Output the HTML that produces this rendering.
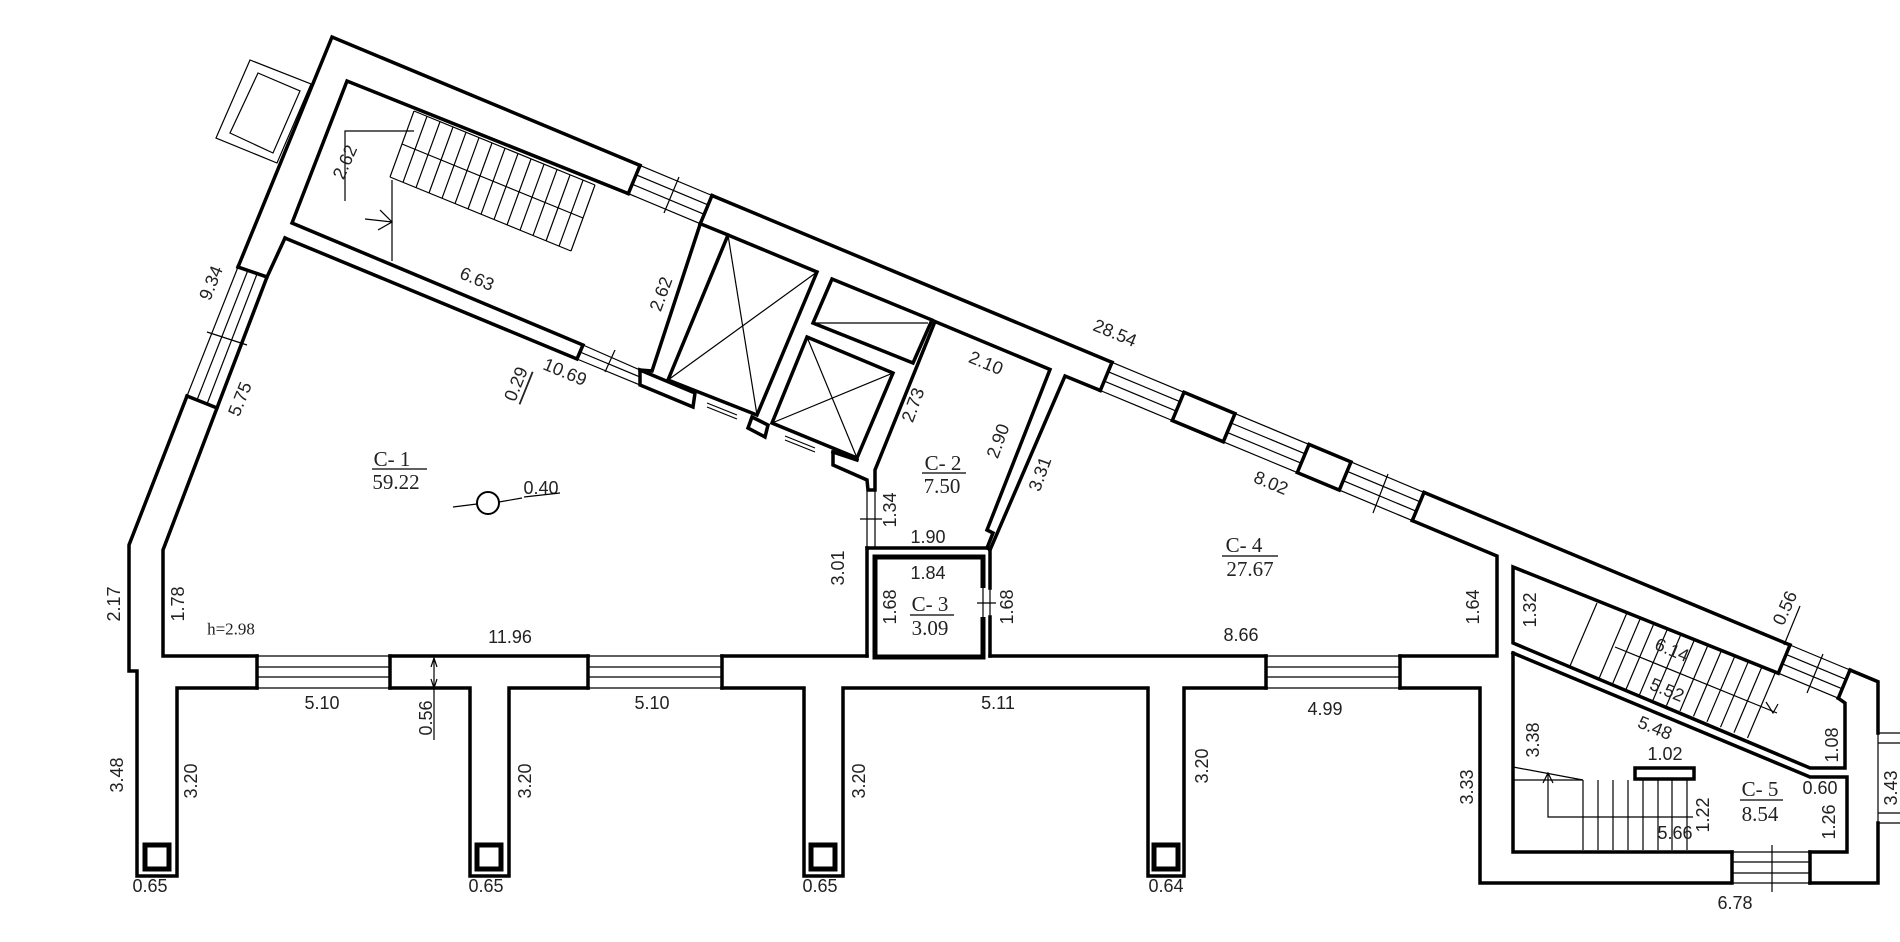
<!DOCTYPE html>
<html><head><meta charset="utf-8"><style>
html,body{margin:0;padding:0;background:#fff;}
svg{display:block;}
text{font-family:"Liberation Sans",sans-serif;font-size:18px;fill:#222;text-anchor:middle;dominant-baseline:central;}
.s{font-family:"Liberation Serif",serif;font-size:21px;}
.t{fill:none;stroke:#000;stroke-width:3.5;stroke-linejoin:miter;stroke-linecap:square;}
.n{fill:none;stroke:#000;stroke-width:1.2;}
.b{fill:none;stroke:#000;stroke-width:5;}
</style></head><body>
<svg width="1900" height="942" viewBox="0 0 1900 942" xmlns="http://www.w3.org/2000/svg">
<rect width="1900" height="942" fill="#fff"/>
<polygon class="n" points="250,60 311,84 277,163 216,138"/>
<polygon class="n" points="258,73 300,91 273,153 230,133"/>
<polyline class="t" points="640,165.4 332,37 238,267"/>
<line class="t" x1="712" y1="195.5" x2="1112" y2="362.3"/>
<line class="t" x1="1424" y1="492.4" x2="1790" y2="645"/>
<polyline class="t" points="1850,670 1878,681.7 1878,733"/>
<polyline class="t" points="1878,823 1878,883 1810,883"/>
<g class="n">
<line x1="640" y1="165.4" x2="712" y2="195.5"/><line x1="628.3" y1="193.6" x2="700.3" y2="223.7"/>
<line x1="636.1" y1="174.8" x2="708.1" y2="204.9"/><line x1="632.2" y1="184.2" x2="704.2" y2="214.3"/>
<line x1="679" y1="177" x2="664" y2="213"/>
<line x1="1112" y1="362.3" x2="1184" y2="392.3"/><line x1="1100.3" y1="390.5" x2="1172.3" y2="420.5"/>
<line x1="1108.1" y1="371.7" x2="1180.1" y2="401.7"/><line x1="1104.2" y1="381.1" x2="1176.2" y2="411.1"/>
<line x1="1235" y1="413.6" x2="1309" y2="444.4"/><line x1="1223.3" y1="441.8" x2="1297.3" y2="472.6"/>
<line x1="1231.1" y1="423" x2="1305.1" y2="453.8"/><line x1="1227.2" y1="432.4" x2="1301.2" y2="463.2"/>
<line x1="1351" y1="461.9" x2="1424" y2="492.4"/><line x1="1339.3" y1="490.1" x2="1412.3" y2="520.6"/>
<line x1="1347.1" y1="471.3" x2="1420.1" y2="501.8"/><line x1="1343.2" y1="480.7" x2="1416.2" y2="511.2"/>
<line x1="1388" y1="474" x2="1373" y2="513"/>
<line x1="1790" y1="645" x2="1850" y2="670"/><line x1="1778.3" y1="673.2" x2="1838.3" y2="698.2"/>
<line x1="1786.1" y1="654.4" x2="1846.1" y2="679.4"/><line x1="1782.2" y1="663.8" x2="1842.2" y2="688.8"/>
<line x1="1823" y1="654" x2="1807" y2="693"/>
</g>
<g class="t">
<line x1="640" y1="165.4" x2="628.3" y2="193.6"/><line x1="712" y1="195.5" x2="700.3" y2="223.7"/>
<line x1="1112" y1="362.3" x2="1100.3" y2="390.5"/>
<polygon points="1184,392.3 1235,413.6 1223.3,441.8 1172.3,420.5"/>
<polygon points="1309,444.4 1351,461.9 1339.3,490.1 1297.3,472.6"/>
<line x1="1424" y1="492.4" x2="1412.3" y2="520.6"/>
<line x1="1790" y1="645" x2="1778.3" y2="673.2"/><line x1="1850" y1="670" x2="1838.3" y2="698.2"/>
</g>
<g class="n">
<line x1="238" y1="267" x2="187" y2="396"/><line x1="267" y1="277" x2="217" y2="408"/>
<line x1="248" y1="270" x2="197" y2="400"/><line x1="257" y1="274" x2="207" y2="404"/>
<line x1="207" y1="332" x2="247" y2="345"/>
</g>
<line class="t" x1="238" y1="267" x2="267" y2="277"/><line class="t" x1="187" y1="396" x2="217" y2="408"/>
<polyline class="t" points="187,396 129,545 129,671 137,671 137,876 177,876 177,688 257,688"/>
<polyline class="t" points="285,238 267,277 217,408 163,550 163,656 257,656"/>
<polyline class="t" points="628.3,193.6 347,81 292,223 583,345 577,359 285,238"/>
<polyline class="t" points="700.3,223.7 728,235"/>
<polyline class="t" points="700.3,223.7 652,371 640,370"/>
<g class="n">
<line x1="583" y1="345" x2="640" y2="370"/><line x1="577" y1="359" x2="640" y2="385"/>
<line x1="580" y1="352" x2="640" y2="377"/><line x1="615" y1="350" x2="605" y2="372"/>
</g>
<g class="n">
<line x1="414" y1="111" x2="595" y2="185"/><line x1="390" y1="177" x2="571" y2="251"/>
<line x1="402" y1="144" x2="583" y2="218"/>
<line x1="414" y1="111" x2="390" y2="177"/><line x1="427" y1="116.3" x2="403" y2="182.3"/><line x1="440" y1="121.7" x2="416" y2="187.7"/><line x1="453" y1="127" x2="429" y2="193"/><line x1="466" y1="132.3" x2="442" y2="198.3"/><line x1="479" y1="137.7" x2="455" y2="203.7"/><line x1="492" y1="143" x2="468" y2="209"/><line x1="505" y1="148.3" x2="481" y2="214.3"/><line x1="518" y1="153.6" x2="494" y2="219.6"/><line x1="531" y1="159" x2="507" y2="225"/><line x1="544" y1="164.3" x2="520" y2="230.3"/><line x1="557" y1="169.6" x2="533" y2="235.6"/><line x1="570" y1="175" x2="546" y2="241"/><line x1="583" y1="180.3" x2="559" y2="246.3"/><line x1="595" y1="185" x2="571" y2="251"/>
<polyline points="414,131 345,131 345,201"/>
<line x1="392" y1="180" x2="392" y2="261"/>
<line x1="365" y1="219" x2="392" y2="222"/><polyline points="380,210 392,222 378,230"/>
</g>
<polygon class="t" points="728,235 817,272 757,415 668,380"/>
<line class="n" x1="728" y1="235" x2="757" y2="415"/><line class="n" x1="817" y1="272" x2="668" y2="380"/>
<polygon class="t" points="832,279 932,320 913,363 813,323"/>
<line class="n" x1="815" y1="323" x2="928" y2="323"/>
<polygon class="t" points="807,337 893,373 857,458 772,423"/>
<line class="n" x1="807" y1="337" x2="857" y2="458"/><line class="n" x1="893" y1="373" x2="772" y2="423"/>
<polygon class="t" points="640,370 695,393 693,407 640,385"/>
<polygon class="t" points="752,417 768,425 765,437 748,428"/>
<line class="n" x1="707" y1="403" x2="737" y2="415"/><line class="n" x1="707" y1="407" x2="737" y2="419"/>
<line class="n" x1="785" y1="436" x2="815" y2="448"/><line class="n" x1="785" y1="440" x2="815" y2="452"/>
<polyline class="t" points="833,452 833,465 867,480 868,490 875,490 875,470 935,321.5 1050,369.5 987,530 993,533 987,548"/>
<line class="t" x1="833" y1="452" x2="857" y2="460"/>
<g class="n"><line x1="867" y1="490" x2="867" y2="548"/><line x1="875" y1="490" x2="875" y2="548"/><line x1="860" y1="519" x2="882" y2="519"/></g>
<line class="t" x1="867" y1="548" x2="987" y2="548"/>
<line class="t" x1="867" y1="548" x2="867" y2="656"/>
<polyline class="b" points="983,588 983,557 875,557 875,657 983,657 983,617"/>
<g class="n"><line x1="990" y1="588" x2="990" y2="617"/><line x1="983" y1="588" x2="983" y2="617"/><line x1="977" y1="603" x2="996" y2="603"/></g>
<line class="t" x1="990" y1="548" x2="990" y2="588"/><line class="t" x1="990" y1="617" x2="990" y2="656"/>
<polyline class="t" points="1100.3,390.5 1065,376 990,550"/>
<polyline class="t" points="1412.3,520.6 1497,556 1497,656 1400,656"/>
<g class="t">
<line x1="390" y1="656" x2="588" y2="656"/><line x1="722" y1="656" x2="867" y2="656"/><line x1="990" y1="656" x2="1266" y2="656"/>
<polyline points="390,688 470,688 470,876 509,876 509,688 588,688"/>
<polyline points="722,688 804,688 804,876 843,876 843,688 1148,688 1148,876 1184,876 1184,688 1266,688"/>
<polyline points="1400,688 1480,688 1480,883 1730,883"/>
<line x1="257" y1="656" x2="257" y2="688"/><line x1="390" y1="656" x2="390" y2="688"/>
<line x1="588" y1="656" x2="588" y2="688"/><line x1="722" y1="656" x2="722" y2="688"/>
<line x1="1266" y1="656" x2="1266" y2="688"/><line x1="1400" y1="656" x2="1400" y2="688"/>
</g>
<g class="b">
<rect x="145" y="845" width="24" height="24"/><rect x="477" y="845" width="24" height="24"/><rect x="811" y="845" width="24" height="24"/><rect x="1154" y="845" width="24" height="24"/>
</g>
<g class="n">
<line x1="257" y1="656" x2="390" y2="656"/><line x1="257" y1="667" x2="390" y2="667"/><line x1="257" y1="677" x2="390" y2="677"/><line x1="257" y1="688" x2="390" y2="688"/>
<line x1="588" y1="656" x2="722" y2="656"/><line x1="588" y1="667" x2="722" y2="667"/><line x1="588" y1="677" x2="722" y2="677"/><line x1="588" y1="688" x2="722" y2="688"/>
<line x1="1266" y1="656" x2="1400" y2="656"/><line x1="1266" y1="667" x2="1400" y2="667"/><line x1="1266" y1="677" x2="1400" y2="677"/><line x1="1266" y1="688" x2="1400" y2="688"/>
<line x1="434" y1="658" x2="434" y2="740"/><polyline points="431,667 434,658 437,667"/><polyline points="431,679 434,688 437,679"/>
</g>
<polyline class="t" points="1778.3,673.2 1513,567 1513,643 1810,768 1845,768 1845,703 1838.3,698.2"/>
<polyline class="t" points="1513,653 1810,777 1847,777 1847,852 1810,852"/>
<polyline class="t" points="1732,852 1513,852 1513,653"/>
<g class="n">
<line x1="1732" y1="852" x2="1810" y2="852"/><line x1="1732" y1="862" x2="1810" y2="862"/><line x1="1732" y1="873" x2="1810" y2="873"/><line x1="1730" y1="883" x2="1810" y2="883"/>
<line x1="1772" y1="845" x2="1772" y2="892"/>
<line x1="1878" y1="733" x2="1900" y2="733"/><line x1="1878" y1="743" x2="1900" y2="743"/><line x1="1878" y1="813" x2="1900" y2="813"/><line x1="1878" y1="823" x2="1900" y2="823"/>
<line x1="1878" y1="733" x2="1878" y2="823"/>
</g>
<line class="t" x1="1732" y1="852" x2="1732" y2="883"/><line class="t" x1="1810" y1="852" x2="1810" y2="883"/>
<g class="n">
<line x1="1597" y1="603" x2="1570" y2="666"/>
<line x1="1627" y1="612.6" x2="1599" y2="678.6"/><line x1="1640.5" y1="618" x2="1612.5" y2="684"/><line x1="1654" y1="623.4" x2="1626" y2="689.4"/><line x1="1667.5" y1="628.8" x2="1639.5" y2="694.8"/><line x1="1681" y1="634.2" x2="1653" y2="700.2"/><line x1="1694.5" y1="639.6" x2="1666.5" y2="705.6"/><line x1="1708" y1="645" x2="1680" y2="711"/><line x1="1721.5" y1="650.4" x2="1693.5" y2="716.4"/><line x1="1735" y1="655.8" x2="1707" y2="721.8"/><line x1="1748.5" y1="661.2" x2="1720.5" y2="727.2"/><line x1="1762" y1="666.6" x2="1734" y2="732.6"/><line x1="1775.5" y1="672" x2="1747.5" y2="738"/>
<line x1="1615" y1="647" x2="1777" y2="713"/>
<polyline points="1766,702 1773,713 1778,704"/>
<line x1="1513" y1="780" x2="1583" y2="780"/><line x1="1513" y1="767" x2="1583" y2="780"/>
<line x1="1583" y1="780" x2="1583" y2="850"/><line x1="1598" y1="780" x2="1598" y2="850"/><line x1="1613" y1="780" x2="1613" y2="850"/><line x1="1628" y1="780" x2="1628" y2="850"/><line x1="1643" y1="780" x2="1643" y2="850"/><line x1="1658" y1="780" x2="1658" y2="850"/><line x1="1672" y1="780" x2="1672" y2="850"/><line x1="1687" y1="780" x2="1687" y2="850"/>
<polyline points="1548,773 1548,817 1693,817"/><polyline points="1543,783 1548,773 1553,783"/>
<line x1="1800" y1="606" x2="1784" y2="645"/>
</g>
<rect class="t" x="1635" y="768" width="59" height="11"/>
<text transform="translate(345,162) rotate(-66)">2.62</text>
<text transform="translate(477,279) rotate(22.6)">6.63</text>
<text transform="translate(661,294) rotate(-70)">2.62</text>
<text transform="translate(211,283) rotate(-68)">9.34</text>
<text transform="translate(240,399) rotate(-68)">5.75</text>
<text transform="translate(516,384) rotate(-68)" text-decoration="underline">0.29</text>
<text transform="translate(565,372) rotate(22.6)">10.69</text>
<text class="s" x="392" y="459">С- 1</text>
<line class="n" x1="372" y1="469" x2="427" y2="469"/>
<text class="s" x="396" y="482">59.22</text>
<circle cx="488" cy="503" r="11" class="n" style="stroke-width:2"/>
<line class="n" x1="453" y1="507" x2="477" y2="504"/><line class="n" x1="522" y1="498" x2="499" y2="502"/>
<text x="541" y="488">0.40</text><line class="n" x1="524" y1="497" x2="560" y2="493"/>
<text transform="translate(114,604) rotate(-90)">2.17</text>
<text transform="translate(178,604) rotate(-90)">1.78</text>
<text class="s" x="231" y="629" style="font-size:17px">h=2.98</text>
<text x="510" y="637">11.96</text>
<text x="322" y="703">5.10</text><text x="652" y="703">5.10</text>
<text transform="translate(426,718) rotate(-90)">0.56</text>
<text transform="translate(117,775) rotate(-90)">3.48</text>
<text transform="translate(191,781) rotate(-90)">3.20</text>
<text transform="translate(525,781) rotate(-90)">3.20</text>
<text transform="translate(859,781) rotate(-90)">3.20</text>
<text transform="translate(1202,766) rotate(-90)">3.20</text>
<text x="150" y="886">0.65</text><text x="486" y="886">0.65</text><text x="820" y="886">0.65</text><text x="1166" y="886">0.64</text>
<text transform="translate(838,568) rotate(-90)">3.01</text>
<text transform="translate(913,405) rotate(-70)">2.73</text>
<text transform="translate(1115,333) rotate(22.6)">28.54</text>
<text transform="translate(986,363) rotate(22.6)">2.10</text>
<text transform="translate(998,441) rotate(-70)">2.90</text>
<text transform="translate(1040,474) rotate(-70)">3.31</text>
<text transform="translate(1271,483) rotate(22.6)">8.02</text>
<text class="s" x="943" y="463">С- 2</text>
<line class="n" x1="922" y1="473" x2="966" y2="473"/>
<text class="s" x="942" y="486">7.50</text>
<text transform="translate(890,510) rotate(-90)">1.34</text>
<text x="928" y="537">1.90</text>
<text x="928" y="573">1.84</text>
<text transform="translate(890,607) rotate(-90)">1.68</text>
<text class="s" x="930" y="604">С- 3</text>
<line class="n" x1="910" y1="615" x2="954" y2="615"/>
<text class="s" x="930" y="628">3.09</text>
<text transform="translate(1007,607) rotate(-90)">1.68</text>
<text class="s" x="1244" y="545">С- 4</text>
<line class="n" x1="1222" y1="556" x2="1278" y2="556"/>
<text class="s" x="1250" y="569">27.67</text>
<text x="1241" y="635">8.66</text>
<text transform="translate(1473,607) rotate(-90)">1.64</text>
<text x="998" y="703">5.11</text>
<text x="1325" y="709">4.99</text>
<text transform="translate(1467,787) rotate(-90)">3.33</text>
<text transform="translate(1530,610) rotate(-90)">1.32</text>
<text transform="translate(1832,745) rotate(-90)">1.08</text>
<text transform="translate(1533,740) rotate(-90)">3.38</text>
<text transform="translate(1655,728) rotate(22.6)">5.48</text>
<text x="1665" y="754">1.02</text>
<text class="s" x="1760" y="789">С- 5</text>
<line class="n" x1="1740" y1="800" x2="1783" y2="800"/>
<text class="s" x="1760" y="814">8.54</text>
<text x="1820" y="788">0.60</text>
<text transform="translate(1829,822) rotate(-90)">1.26</text>
<text transform="translate(1703,815) rotate(-90)">1.22</text>
<text x="1675" y="833">5.66</text>
<text transform="translate(1672,650) rotate(22.6)">6.14</text>
<text transform="translate(1667,690) rotate(22.6)">5.52</text>
<text transform="translate(1785,608) rotate(-66)">0.56</text>
<text transform="translate(1891,788) rotate(-90)">3.43</text>
<text x="1735" y="903">6.78</text>
</svg>
</body></html>
